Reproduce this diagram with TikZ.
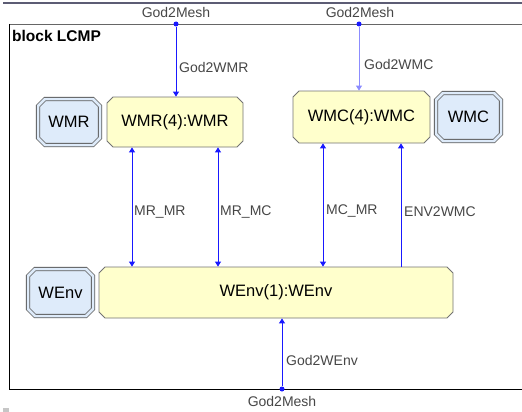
\documentclass[tikz,border=0pt]{standalone}
\usepackage{fontspec}
\setmainfont{Liberation Sans}
\usetikzlibrary{shapes.misc,arrows.meta}
\definecolor{wire}{RGB}{25,25,255}
\definecolor{wirelight}{RGB}{140,140,255}
\definecolor{partfill}{RGB}{255,255,204}
\definecolor{statefill}{RGB}{222,235,250}
\definecolor{txtgrey}{RGB}{70,70,70}
\definecolor{topbar}{RGB}{92,92,116}
\begin{document}
\begin{tikzpicture}[x=1pt,y=-1pt,
  part/.style={chamfered rectangle, chamfered rectangle xsep=3pt,
    chamfered rectangle ysep=3pt, draw=black!55, fill=partfill,
    line width=0.8pt, inner sep=0pt, font=\fontsize{16.5}{18}\selectfont},
  stateshape/.style={chamfered rectangle, chamfered rectangle xsep=3.5pt,
    chamfered rectangle ysep=3.5pt, draw=black!65, fill=statefill,
    double=statefill, double distance=2.5pt, line width=0.8pt,
    inner sep=0pt, font=\fontsize{16.5}{18}\selectfont},
  port/.style={circle, fill=wire, inner sep=0pt, minimum size=5pt},
  conn/.style={wire, line width=0.9pt},
  tip/.style={-{Triangle[width=6pt,length=5pt]}},
  lbl/.style={text=txtgrey, inner sep=0pt, font=\fontsize{14}{16}\selectfont},
]
\useasboundingbox (0,0) rectangle (522,412);
\clip (0,0) rectangle (522,412);

% title bar and block frame
\draw[topbar, line width=2pt] (3,3.5) -- (524,3.5);
\draw[black!60, line width=0.9pt] (9,24) -- (526,24);
\draw[black, line width=0.9pt] (9,24) -- (9,389) -- (526,389);
\node[anchor=base west, inner sep=0pt, font=\fontsize{15.5}{17}\selectfont\bfseries]
  (title) at (12,41.5) {block LCMP};
\fill[gray!45] (3,408) rectangle (9,412);

% parts and states
\node[stateshape, minimum width=62pt, minimum height=46pt] (WMRs) at (69,122) {WMR};
\node[part, minimum width=136pt, minimum height=50pt] (WMRi) at (175,122) {WMR(4):WMR};
\node[part, minimum width=137pt, minimum height=52pt] (WMCi) at (361.5,117) {WMC(4):WMC};
\node[stateshape, minimum width=65pt, minimum height=48pt] (WMCs) at (468.5,117) {WMC};
\node[stateshape, minimum width=65pt, minimum height=47pt] (WEnvs) at (60.5,292.5) {WEnv};
\node[part, minimum width=354pt, minimum height=51pt] (WEnvi) at (276,292.5) {WEnv(1):WEnv};

% boundary ports
\node[port] (pA) at (176,24) {};
\node[port] (pB) at (359,24) {};
\node[port] (pC) at (282,389) {};
\node[lbl, anchor=base] (pAl) at (176,18) {God2Mesh};
\node[lbl, anchor=base] (pBl) at (360,18) {God2Mesh};
\node[lbl, anchor=base] (pCl) at (282,406) {God2Mesh};

% connector positions
\coordinate (xMRMR) at ([xshift=-43pt]WMRi.south);
\coordinate (xMRMC) at ([xshift=43pt]WMRi.south);
\coordinate (xMCMR) at ([xshift=-38.5pt]WMCi.south);
\coordinate (xENV) at ([xshift=39.5pt]WMCi.south);

% connectors
\draw[conn, tip] (pA) -- (pA |- WMRi.north);
\draw[wirelight, line width=0.9pt, tip] (pB) -- (pB |- WMCi.north);
\draw[conn, tip] (pC) -- (pC |- WEnvi.south);
\draw[conn, {Triangle[width=6pt,length=5pt]}-{Triangle[width=6pt,length=5pt]}]
  (xMRMR) -- (xMRMR |- WEnvi.north);
\draw[conn, {Triangle[width=6pt,length=5pt]}-{Triangle[width=6pt,length=5pt]}]
  (xMRMC) -- (xMRMC |- WEnvi.north);
\draw[conn, {Triangle[width=6pt,length=5pt]}-{Triangle[width=6pt,length=5pt]}]
  (xMCMR) -- (xMCMR |- WEnvi.north);
\draw[conn, {Triangle[width=6pt,length=5pt]}-] (xENV) -- (xENV |- WEnvi.north);

% connector labels
\node[lbl, anchor=base west] (l1) at (179,73) {God2WMR};
\node[lbl, anchor=base west] (l2) at (364,69.5) {God2WMC};
\node[lbl, anchor=base west] (l3) at (134,215) {MR\_MR};
\node[lbl, anchor=base west] (l4) at (220,215) {MR\_MC};
\node[lbl, anchor=base west] (l5) at (326,214) {MC\_MR};
\node[lbl, anchor=base west] (l6) at (404,216) {ENV2WMC};
\node[lbl, anchor=base west] (l7) at (286,365) {God2WEnv};
\end{tikzpicture}
\end{document}
